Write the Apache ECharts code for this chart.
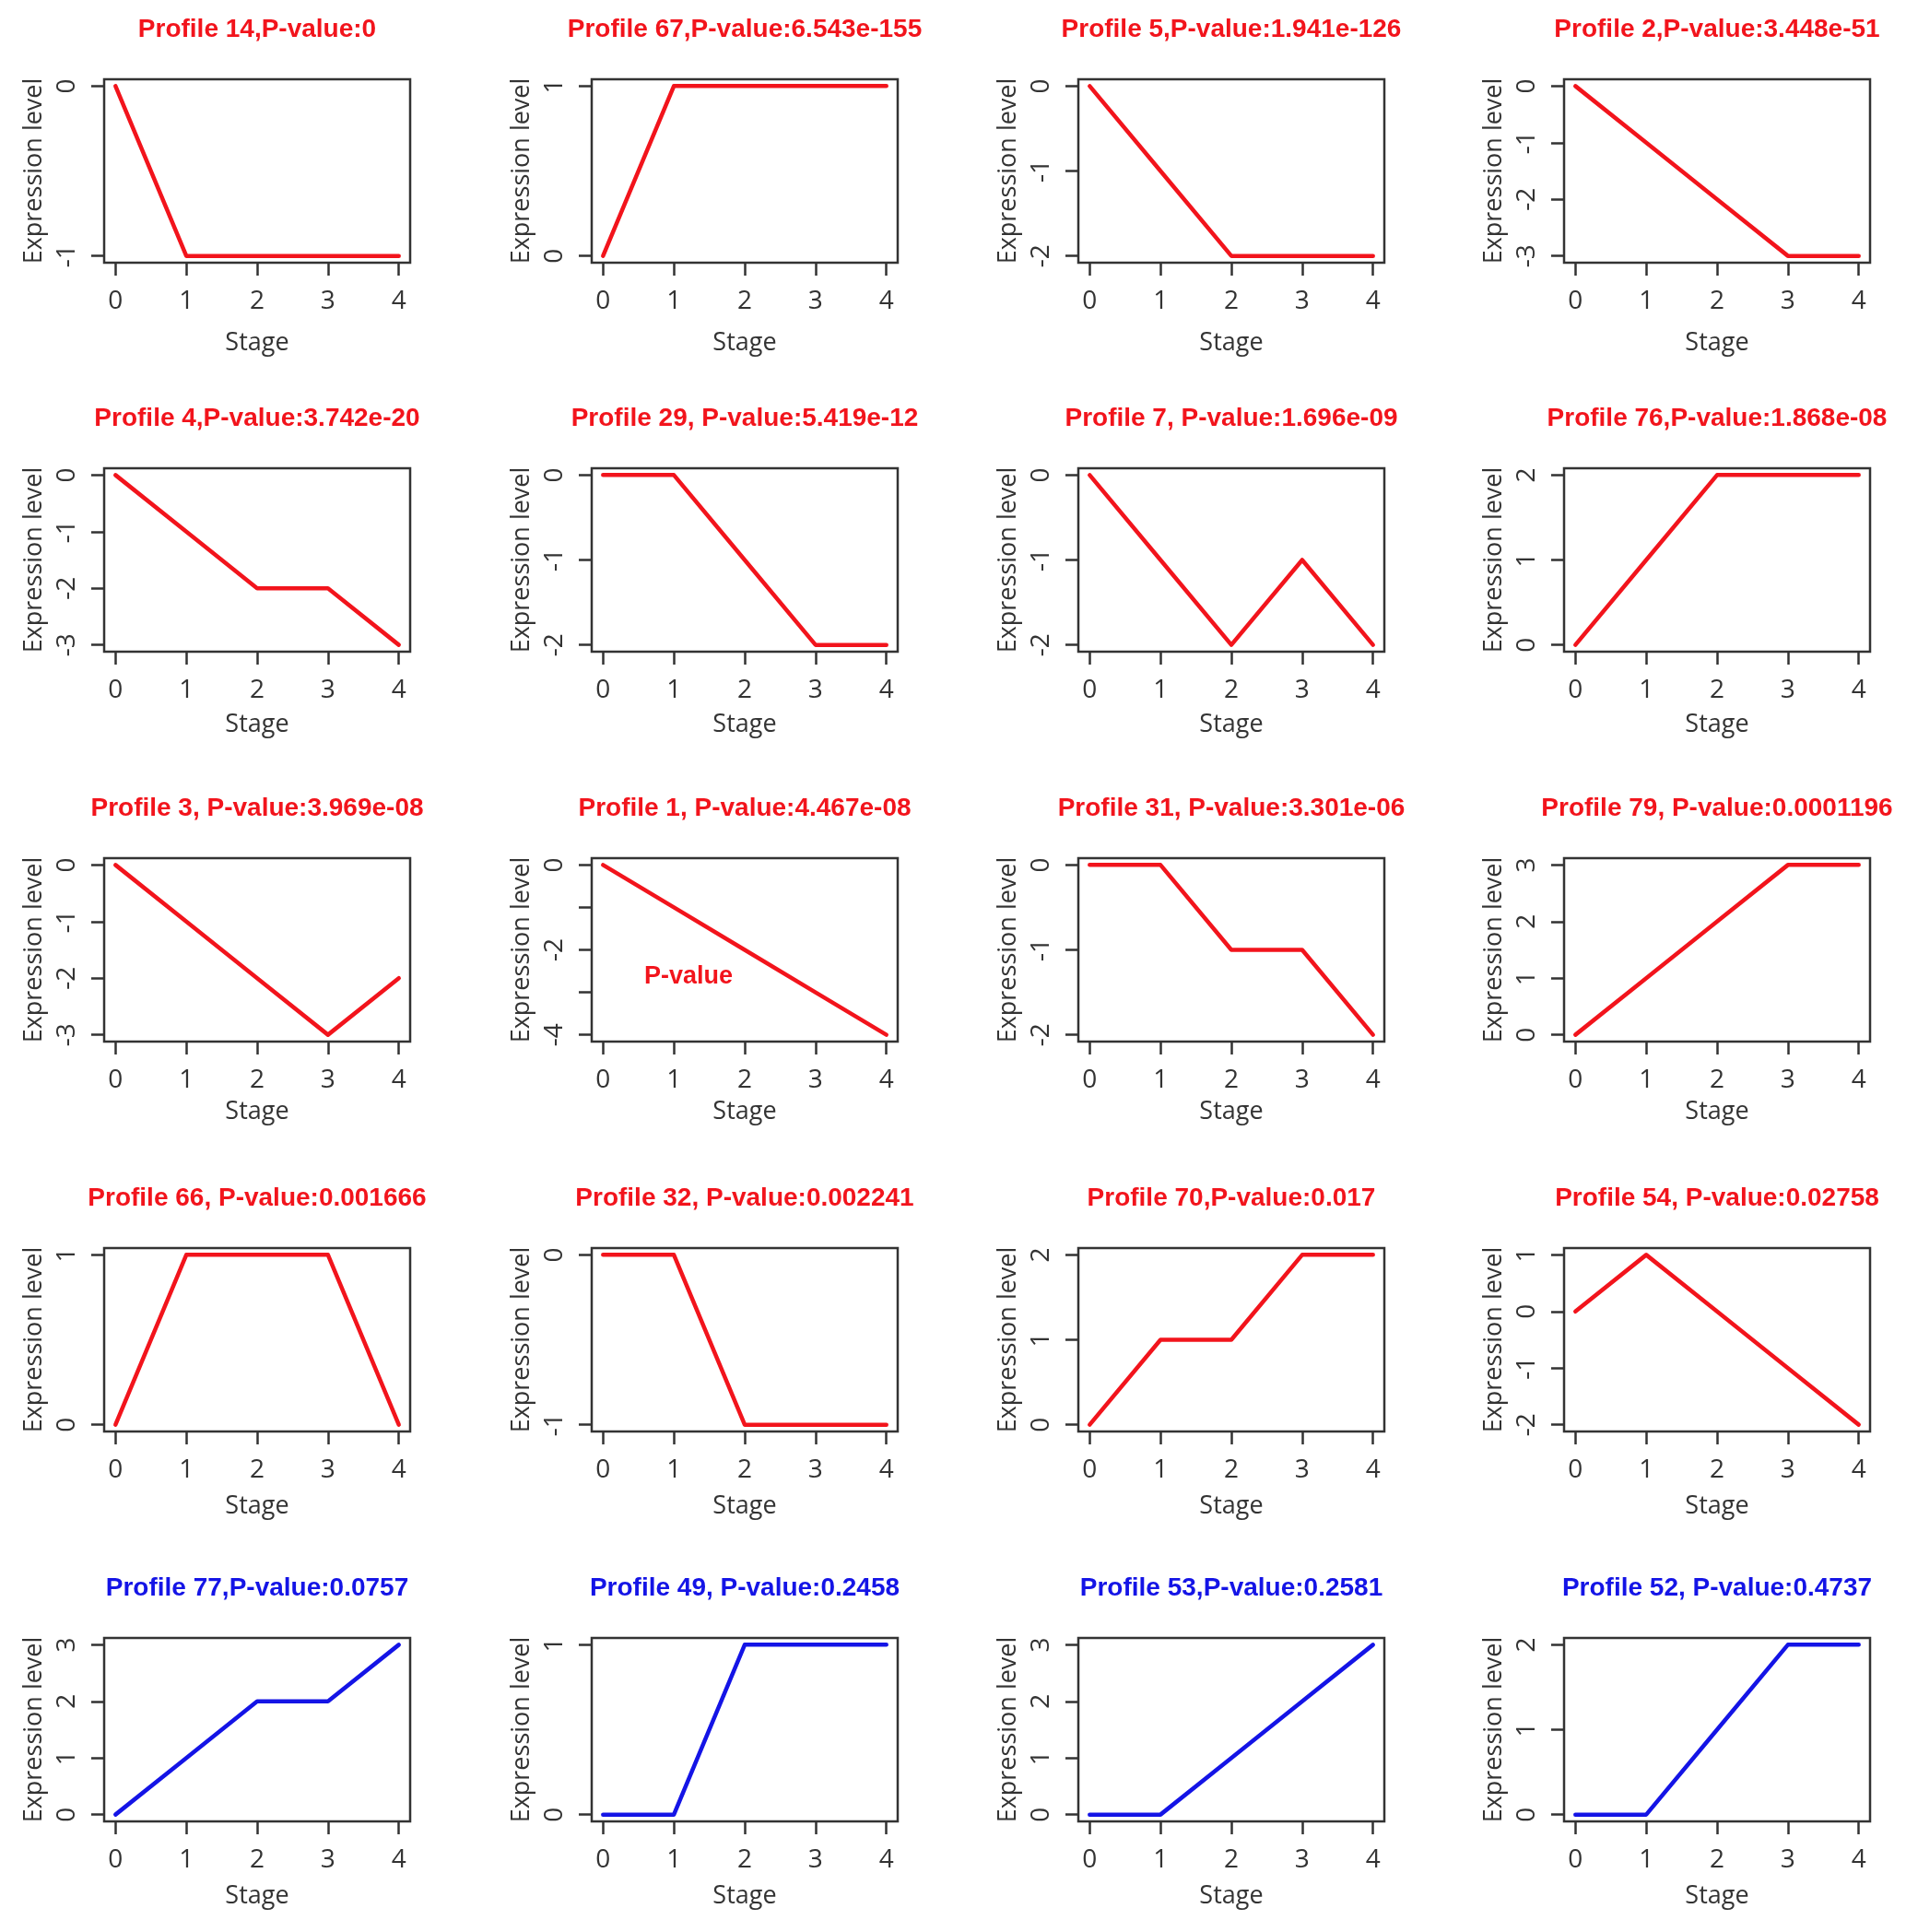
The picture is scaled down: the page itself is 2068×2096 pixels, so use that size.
<!DOCTYPE html>
<html>
<head>
<meta charset="utf-8">
<script src="https://cdn.jsdelivr.net/npm/echarts@6/dist/echarts.min.js"></script>
<style>
html,body{margin:0;padding:0;background:#fff;}
#chart{width:2068px;height:2096px;}
</style>
</head>
<body>
<div id="chart"></div>
<script>
// ---------------- DATA ----------------
const stages = [0, 1, 2, 3, 4];

const titles = [
  "Profile 14,P-value:0",
  "Profile 67,P-value:6.543e-155",
  "Profile 5,P-value:1.941e-126",
  "Profile 2,P-value:3.448e-51",
  "Profile 4,P-value:3.742e-20",
  "Profile 29, P-value:5.419e-12",
  "Profile 7, P-value:1.696e-09",
  "Profile 76,P-value:1.868e-08",
  "Profile 3, P-value:3.969e-08",
  "Profile 1, P-value:4.467e-08",
  "Profile 31, P-value:3.301e-06",
  "Profile 79, P-value:0.0001196",
  "Profile 66, P-value:0.001666",
  "Profile 32, P-value:0.002241",
  "Profile 70,P-value:0.017",
  "Profile 54, P-value:0.02758",
  "Profile 77,P-value:0.0757",
  "Profile 49, P-value:0.2458",
  "Profile 53,P-value:0.2581",
  "Profile 52, P-value:0.4737"
];

const profileValues = [
  [0, -1, -1, -1, -1],
  [0, 1, 1, 1, 1],
  [0, -1, -2, -2, -2],
  [0, -1, -2, -3, -3],
  [0, -1, -2, -2, -3],
  [0, 0, -1, -2, -2],
  [0, -1, -2, -1, -2],
  [0, 1, 2, 2, 2],
  [0, -1, -2, -3, -2],
  [0, -1, -2, -3, -4],
  [0, 0, -1, -1, -2],
  [0, 1, 2, 3, 3],
  [0, 1, 1, 1, 0],
  [0, 0, -1, -1, -1],
  [0, 1, 1, 2, 2],
  [0, 1, 0, -1, -2],
  [0, 1, 2, 2, 3],
  [0, 0, 1, 1, 1],
  [0, 0, 1, 2, 3],
  [0, 0, 1, 2, 2]
];

// significant profiles are drawn red, the others blue
const significant = [
  true, true, true, true,
  true, true, true, true,
  true, true, true, true,
  true, true, true, true,
  false, false, false, false
];

const xTicks = [0, 1, 2, 3, 4];
const yTicks = [
  [-1, 0], [0, 1], [-2, -1, 0], [-3, -2, -1, 0],
  [-3, -2, -1, 0], [-2, -1, 0], [-2, -1, 0], [0, 1, 2],
  [-3, -2, -1, 0], [-4, -3, -2, -1, 0], [-2, -1, 0], [0, 1, 2, 3],
  [0, 1], [-1, 0], [0, 1, 2], [-2, -1, 0, 1],
  [0, 1, 2, 3], [0, 1], [0, 1, 2, 3], [0, 1, 2]
];
const yTickLabels = [
  [-1, 0], [0, 1], [-2, -1, 0], [-3, -2, -1, 0],
  [-3, -2, -1, 0], [-2, -1, 0], [-2, -1, 0], [0, 1, 2],
  [-3, -2, -1, 0], [-4, -2, 0], [-2, -1, 0], [0, 1, 2, 3],
  [0, 1], [-1, 0], [0, 1, 2], [-2, -1, 0, 1],
  [0, 1, 2, 3], [0, 1], [0, 1, 2, 3], [0, 1, 2]
];

const xAxisName = "Stage";
const yAxisName = "Expression level";
const annotationText = "P-value";

// ---------------- LAYOUT ----------------
const colLeft = [113, 642, 1170, 1697];
const rowTop = [86, 508, 931, 1354, 1777];
const boxW = 332, boxH = 199;
const stageGap = [74, 66, 63, 68, 68];
const RED = "#f2141c", BLUE = "#1414e6", INK = "#333333";
const labelFont = "'Open Sans', 'Noto Sans', sans-serif";
const titleFont = "'Liberation Sans', Arial, sans-serif";

const grids = [], xAxes = [], yAxes = [], series = [], titleList = [];

profileValues.forEach((vals, i) => {
  const r = Math.floor(i / 4), c = i % 4;
  const left = colLeft[c], top = rowTop[r];
  const color = significant[i] ? RED : BLUE;
  grids.push({
    left: left, top: top, width: boxW, height: boxH,
    show: true, borderColor: INK, borderWidth: 2.5, backgroundColor: "transparent",
    containLabel: false
  });
  const yMin = Math.min(...yTicks[i]), yMax = Math.max(...yTicks[i]);
  const yPad = (yMax - yMin) * 0.04;
  xAxes.push({
    type: "value", gridIndex: i, min: -0.16, max: 4.16, position: "bottom",
    axisLine: { show: false, onZero: false }, splitLine: { show: false },
    axisTick: { show: true, customValues: xTicks, length: 14, inside: false,
      lineStyle: { color: INK, width: 2.5 } },
    axisLabel: { show: true, customValues: xTicks, fontSize: 28, fontFamily: labelFont,
      color: INK, margin: 28, hideOverlap: false },
    name: xAxisName, nameLocation: "middle", nameGap: stageGap[r],
    nameTextStyle: { fontSize: 27, fontFamily: labelFont, color: INK }
  });
  yAxes.push({
    type: "value", gridIndex: i, min: yMin - yPad, max: yMax + yPad, position: "left",
    axisLine: { show: false, onZero: false }, splitLine: { show: false },
    axisTick: { show: true, customValues: yTicks[i], length: 14, inside: false,
      lineStyle: { color: INK, width: 2.5 } },
    axisLabel: { show: true, customValues: yTickLabels[i], rotate: 90, fontSize: 28,
      fontFamily: labelFont, color: INK, margin: 26, hideOverlap: false },
    name: yAxisName, nameLocation: "middle", nameGap: 62, nameRotate: 90,
    nameTextStyle: { fontSize: 27, fontFamily: labelFont, color: INK }
  });
  series.push({
    type: "line", xAxisIndex: i, yAxisIndex: i,
    data: stages.map((s, j) => [s, vals[j]]),
    showSymbol: false, symbol: "none", silent: true,
    lineStyle: { color: color, width: 4.5, cap: "round", join: "round" }
  });
  titleList.push({
    text: titles[i], left: left + boxW / 2, top: top - 68, textAlign: "center", padding: 0,
    textStyle: { fontSize: 28, fontWeight: "bold", fontFamily: titleFont, color: color }
  });
});

// in-panel annotation of Profile 1
titleList.push({
  text: annotationText, left: 747, top: 1046, textAlign: "center", padding: 0,
  textStyle: { fontSize: 27, fontWeight: "bold", fontFamily: titleFont, color: RED }
});

const chart = echarts.init(document.getElementById("chart"), null, { renderer: "canvas" });
chart.setOption({
  animation: false,
  backgroundColor: "#ffffff",
  title: titleList,
  grid: grids,
  xAxis: xAxes,
  yAxis: yAxes,
  series: series
});
</script>
</body>
</html>
